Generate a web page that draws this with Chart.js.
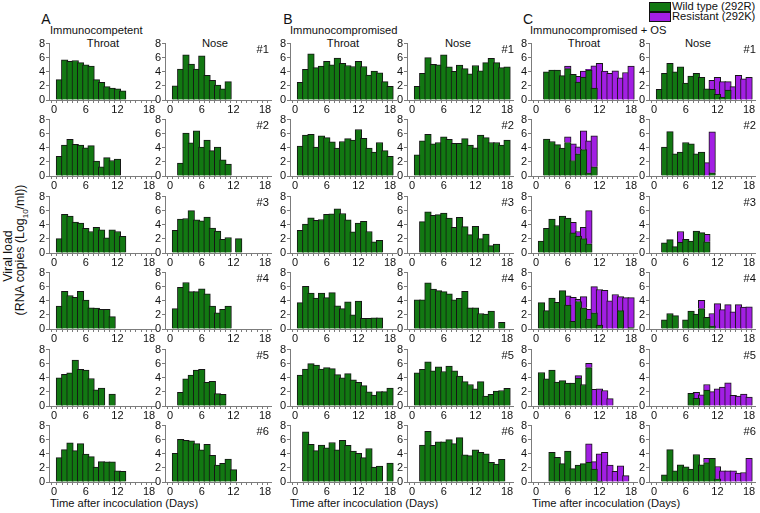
<!DOCTYPE html>
<html>
<head>
<meta charset="utf-8">
<script src="https://cdn.jsdelivr.net/npm/chart.js@4.4.0/dist/chart.umd.min.js"></script>
<style>
  body { margin: 0; background: #fff; }
  #fig { position: relative; width: 760px; height: 513px; overflow: hidden;
         font-family: "Liberation Sans", Arial, sans-serif; color: #111; }
  #fig canvas { position: absolute; }
  .t { position: absolute; white-space: nowrap; line-height: 1; font-size: 11.2px; }
  .c { transform: translate(-50%, -50%); }
  .l { transform: translate(0, -50%); }
  .r { transform: translate(-100%, -50%); }
  .v { transform: translate(-50%, -50%) rotate(-90deg); font-size: 12.4px; }
  .box { position: absolute; width: 20px; height: 8px; border: 1px solid #111; }
</style>
</head>
<body>
<div id="fig">
  <div class="t c" style="left:46px;top:19px;font-size:14px">A</div>
  <div class="t l" style="left:50px;top:31px">Immunocompetent</div>
  <div class="t c" style="left:288px;top:19px;font-size:14px">B</div>
  <div class="t l" style="left:290px;top:31px">Immunocompromised</div>
  <div class="t c" style="left:528px;top:19px;font-size:14px">C</div>
  <div class="t l" style="left:530px;top:31px">Immunocompromised + OS</div>

  <div class="t c" style="left:103px;top:44px">Throat</div>
  <div class="t c" style="left:215px;top:44px">Nose</div>
  <div class="t c" style="left:343px;top:44px">Throat</div>
  <div class="t c" style="left:458px;top:44px">Nose</div>
  <div class="t c" style="left:584px;top:44px">Throat</div>
  <div class="t c" style="left:698px;top:44px">Nose</div>

  <div class="box" style="left:649px;top:2px;background:#127812"></div>
  <div class="t l" style="left:672px;top:7px">Wild type (292R)</div>
  <div class="box" style="left:649px;top:12px;background:#a21fe3"></div>
  <div class="t l" style="left:672px;top:17px">Resistant (292K)</div>

  <div class="t l" style="left:50px;top:504px">Time after incoculation (Days)</div>
  <div class="t l" style="left:290px;top:504px">Time after incoculation (Days)</div>
  <div class="t l" style="left:532px;top:504px">Time after incoculation (Days)</div>

  <div class="t v" style="left:8px;top:256px">Viral load</div>
  <div class="t v" style="left:22px;top:250px">(RNA copies (Log<sub style="font-size:8px">10</sub>/ml))</div>
</div>

<script>
// days after inoculation, one bar per day
const days = [1, 2, 3, 4, 5, 6, 7, 8, 9, 10, 11, 12, 13, 14, 15, 16, 17, 18];
const dayTicks = [0, ...days];
const xLabelDays = [0, 6, 12, 18];
const yTicks = [0, 2, 4, 6, 8];
const animals = ['#1', '#2', '#3', '#4', '#5', '#6'];
const _ = null;

// A: immunocompetent, throat / nose (log10 RNA copies/ml)
const aThroat1 = [2.9, 5.7, 5.5, 5.6, 5.3, 5.0, 4.8, 2.9, 2.5, 1.9, 1.7, 1.6, 1.3, _, _, _, _, _];
const aThroat2 = [2.8, 4.4, 5.2, 4.5, 4.4, 4.0, 4.3, 2.1, 1.3, 2.6, 2.2, 2.4, _, _, _, _, _, _];
const aThroat3 = [2.05, 5.5, 5.25, 4.4, 4.25, 3.5, 3.05, 3.65, 3.3, 2.15, 3.3, 3.05, 2.35, _, _, _, _, _];
const aThroat4 = [3.25, 5.35, 4.75, 4.5, 5.35, 4.1, 3.0, 2.95, 2.8, 2.8, 1.75, _, _, _, _, _, _, _];
const aThroat5 = [4.0, 4.5, 4.7, 6.5, 5.2, 5.1, 3.9, 2.3, 2.55, _, 1.7, _, _, _, _, _, _, _];
const aThroat6 = [3.45, 4.6, 5.55, 4.45, 5.45, 3.95, 3.6, 2.1, 2.9, 2.85, 2.85, 1.6, 1.5, _, _, _, _, _];

const aNose1 = [2.0, 4.4, 6.4, 5.1, 4.4, 6.25, 3.5, 2.8, 2.1, 1.6, 2.6, _, _, _, _, _, _, _];
const aNose2 = [_, 1.85, 6.1, 4.7, 6.4, 4.1, 5.1, 3.6, 4.1, 2.3, 1.7, _, _, _, _, _, _, _];
const aNose3 = [3.2, 4.8, 4.9, 6.0, 4.7, 4.55, 5.1, 3.55, 3.1, 1.95, 2.2, _, 2.05, _, _, _, _, _];
const aNose4 = [2.9, 5.9, 6.6, 5.3, 5.3, 5.7, 5.0, 3.25, 2.3, 2.8, 3.25, _, _, _, _, _, _, _];
const aNose5 = [_, 1.95, 3.85, 4.4, 5.1, 5.2, 3.35, 3.5, 1.75, 1.65, _, _, _, _, _, _, _, _];
const aNose6 = [4.05, 6.05, 5.9, 5.85, 5.45, 4.55, 5.35, 3.8, 2.4, 2.65, 3.25, 1.75, _, _, _, _, _, _];

// B: immunocompromised
const bThroat1 = [2.5, 4.35, 6.55, 4.6, 4.8, 5.5, 5.0, 5.95, 5.2, 4.9, 4.75, 5.5, 4.75, 3.55, 4.1, 3.85, 2.6, 1.95];
const bThroat2 = [4.25, 5.8, 5.9, 4.1, 5.7, 5.45, 4.85, 3.95, 4.9, 5.3, 5.1, 6.6, 5.35, 3.95, 3.4, 4.75, 3.6, 2.8];
const bThroat3 = [3.2, 4.1, 5.0, 4.65, 4.75, 5.5, 5.55, 6.25, 5.6, 4.7, 3.0, 4.25, 4.5, 3.05, 1.6, 1.8, _, _];
const bThroat4 = [3.75, 6.05, 5.1, 4.4, 5.1, 4.45, 5.15, 3.3, 2.9, 3.85, 2.0, 3.95, 1.5, 1.5, 1.6, 1.6, _, _];
const bThroat5 = [4.4, 5.25, 6.0, 5.8, 5.25, 5.45, 5.3, 4.45, 4.0, 4.6, 3.7, 3.35, 2.9, 2.0, 1.55, 2.05, 2.05, 2.55];
const bThroat6 = [_, 7.1, 5.35, 4.45, 5.25, 4.85, 5.6, 4.55, 5.9, 5.2, 4.4, 4.05, 3.45, 4.75, 2.1, 2.25, _, 2.7];

const bNose1 = [1.95, 3.8, 6.0, 5.05, 5.0, 6.4, 4.7, 4.05, 4.95, 4.45, 3.7, 4.9, 4.15, 5.3, 5.9, 5.3, 4.6, 4.7];
const bNose2 = [3.0, 5.0, 5.9, 4.55, 4.75, 5.55, 5.2, 4.65, 4.65, 5.3, 4.4, 4.0, 5.8, 5.45, 4.75, 4.75, 4.4, 5.1];
const bNose3 = [_, 4.45, 5.85, 5.35, 5.45, 5.65, 4.95, 3.65, 5.05, 3.75, 2.6, 3.8, 2.05, 2.7, 1.05, 1.25, _, _];
const bNose4 = [4.15, 4.15, 6.55, 5.65, 5.45, 5.3, 5.0, 4.15, 4.35, 5.35, 3.0, 3.0, 2.2, 2.1, 2.55, _, 0.95, _];
const bNose5 = [4.7, 5.2, 6.25, 5.0, 5.55, 4.9, 5.65, 5.0, 4.25, 3.45, 3.05, 2.45, 3.45, 1.4, 1.65, 2.1, 2.2, 2.5];
const bNose6 = [_, 5.25, 7.2, 5.2, 5.7, 5.7, 6.0, 5.45, 6.3, 3.85, 3.75, 4.55, 4.2, 4.0, 2.8, 2.55, 3.2, _];

// C: immunocompromised + OS, wild type part and resistant part stacked on it
const cThroat1 = [_, 4.0, 4.25, 4.25, 3.45, 4.45, 3.65, 2.55, 3.25, 4.25, 1.7, 0, 0, 0, 0, 0, 0, 0];
const cThroat1R = [_, 0, 0, 0, 0, 0.35, 0, 0.8, 0.85, 0.1, 3.15, 5.2, 4.1, 3.8, 4.15, 3.15, 3.9, 4.8];
const cThroat2 = [_, 5.25, 4.9, 4.45, 3.95, 4.75, 2.2, 3.15, 3.75, 0.45, 1.3, _, _, _, _, _, _, _];
const cThroat2R = [_, 0, 0, 0, 0, 0.8, 2.35, 1.0, 2.65, 4.55, 4.4, _, _, _, _, _, _, _];
const cThroat3 = [1.7, 3.5, 4.8, 3.9, 5.25, 4.95, 2.85, 2.4, 2.05, 1.3, _, _, _, _, _, _, _, _];
const cThroat3R = [0, 0, 0, 0, 0, 0, 1.5, 0.65, 1.6, 4.7, _, _, _, _, _, _, _, _];
const cThroat4 = [3.75, 2.6, 4.4, 3.8, 5.45, 3.4, 1.1, 3.9, 3.0, 1.45, 2.3, 0.55, 0, 0, 0, 2.6, 0, 0.2];
const cThroat4R = [0, 0, 0, 0, 0, 1.3, 3.4, 0.3, 1.6, 1.35, 3.7, 5.05, 5.5, 4.0, 4.9, 2.0, 4.45, 4.25];
const cThroat5 = [4.75, 3.85, 5.1, 3.4, 3.6, 3.25, 3.25, 3.95, 3.05, 5.45, 0, 0, 0, 0, _, _, _, _];
const cThroat5R = [0, 0, 0, 0, 0, 0, 0, 0.35, 0, 0.6, 2.35, 2.45, 2.2, 1.05, _, _, _, _];
const cThroat6 = [_, _, 4.2, 3.5, 2.6, 4.4, 1.9, 2.4, 2.6, 2.8, 1.85, 0.1, 0, 0, 0, 0, 0, _];
const cThroat6R = [_, _, 0, 0, 0, 0, 0, 0, 0, 2.6, 1.05, 3.9, 4.2, 2.4, 1.5, 2.3, 0.9, _];

const cNose1 = [1.5, 3.8, 5.2, 4.0, 4.7, 2.4, 3.4, 3.8, 3.2, 1.6, 1.5, 0.8, 0.4, 1.4, 0, 0, 0, 0];
const cNose1R = [0, 0, 0, 0, 0, 0, 0, 0, 0, 0, 1.3, 2.4, 2.2, 1.2, 1.9, 3.5, 3.0, 3.2];
const cNose2 = [_, 4.1, 6.3, 3.15, 3.4, 4.75, 4.55, 3.15, 3.4, 0, 0.45, _, _, _, _, _, _, _];
const cNose2R = [_, 0, 0, 0, 0, 0, 0, 0, 0, 1.9, 5.8, _, _, _, _, _, _, _];
const cNose3 = [_, 1.45, 1.9, 0.9, 1.5, 1.95, 1.7, 3.1, 2.9, 1.6, _, _, _, _, _, _, _, _];
const cNose3R = [_, 0, 0, 0, 1.55, 0, 0, 0, 0, 1.05, _, _, _, _, _, _, _, _];
const cNose4 = [_, 1.3, 2.2, 1.9, _, 1.3, 2.55, 2.1, 2.9, 1.65, 0.45, 0, 0, 0, 0, 0, 0, 0];
const cNose4R = [_, 0, 0, 0, _, 0, 0, 0, 1.15, 0, 1.75, 3.6, 2.75, 3.45, 2.45, 3.45, 3.1, 3.15];
const cNose5 = [_, _, _, _, _, _, 1.8, 1.1, 0, 2.25, 0, 0, 0, 0, 0, 0, 0, 0];
const cNose5R = [_, _, _, _, _, _, 0, 0.85, 1.6, 0.8, 2.05, 2.45, 2.7, 3.3, 1.5, 1.4, 1.7, 1.25];
const cNose6 = [_, 1.0, 4.6, 1.6, 2.45, 2.15, 1.85, 3.9, 2.45, 2.75, 3.35, 0.45, 0, 0, 0, 0, 0, 0];
const cNose6R = [_, 0, 0, 0, 0, 0, 0, 0, 0, 0.6, 0, 1.75, 1.6, 1.6, 1.6, 1.25, 1.35, 3.35];

const GREEN = '#127812';
const PURPLE = '#a21fe3';
const EDGE = '#161616';
const AXIS = '#7c7c7c';
const tickFont = { family: '"Liberation Sans", Arial, sans-serif', size: 11 };

// panel grid: where day 0 sits (x) and where value 0 sits (y)
const colX = [52, 168, 293, 410, 534, 652];
const rowY = [99.5, 176, 252.5, 329, 405.5, 482];
const noteRight = [269, 514, 756];

const rows = [
  [[aThroat1], [aNose1], [bThroat1], [bNose1], [cThroat1, cThroat1R], [cNose1, cNose1R]],
  [[aThroat2], [aNose2], [bThroat2], [bNose2], [cThroat2, cThroat2R], [cNose2, cNose2R]],
  [[aThroat3], [aNose3], [bThroat3], [bNose3], [cThroat3, cThroat3R], [cNose3, cNose3R]],
  [[aThroat4], [aNose4], [bThroat4], [bNose4], [cThroat4, cThroat4R], [cNose4, cNose4R]],
  [[aThroat5], [aNose5], [bThroat5], [bNose5], [cThroat5, cThroat5R], [cNose5, cNose5R]],
  [[aThroat6], [aNose6], [bThroat6], [bNose6], [cThroat6, cThroat6R], [cNose6, cNose6R]],
];

const fig = document.getElementById('fig');
const X_MIN = -0.45, X_MAX = 18.6;
const AXIS_W = 18, AXIS_H = 16, PAD_TOP = 7, PAD_RIGHT = 8;
const PLOT_W = 106, PLOT_H = 57;
const pxPerDay = PLOT_W / (X_MAX - X_MIN);

function toPoints(vals) {
  return vals.map((v, i) => ({ x: days[i], y: v })).filter(p => p.y != null && p.y > 0);
}

function makePanel(x0, zero, wt, res) {
  const cv = document.createElement('canvas');
  cv.width = AXIS_W + PLOT_W + PAD_RIGHT;
  cv.height = PAD_TOP + PLOT_H + AXIS_H;
  cv.style.left = Math.round(x0 + X_MIN * pxPerDay - AXIS_W) + 'px';
  cv.style.top = Math.round(zero - PLOT_H - PAD_TOP) + 'px';
  fig.appendChild(cv);

  const sets = [{ label: 'Wild type (292R)', data: toPoints(wt), backgroundColor: GREEN }];
  if (res) sets.push({ label: 'Resistant (292K)', data: toPoints(res), backgroundColor: PURPLE });
  sets.forEach(s => Object.assign(s, {
    borderColor: EDGE, borderWidth: 1, barThickness: pxPerDay + 1
  }));

  new Chart(cv, {
    type: 'bar',
    data: { datasets: sets },
    options: {
      responsive: false,
      animation: false,
      devicePixelRatio: 1,
      layout: { padding: { top: PAD_TOP, right: PAD_RIGHT, left: 0, bottom: 0 } },
      plugins: { legend: { display: false }, tooltip: { enabled: false } },
      scales: {
        x: {
          type: 'linear', min: X_MIN, max: X_MAX, stacked: true,
          afterBuildTicks: s => { s.ticks = dayTicks.map(v => ({ value: v })); },
          afterFit: s => { s.height = AXIS_H; },
          grid: { drawOnChartArea: false, tickLength: 3, color: AXIS },
          border: { color: AXIS },
          ticks: {
            autoSkip: false, maxRotation: 0, padding: 0, font: tickFont, color: '#111',
            callback: v => xLabelDays.includes(v) ? String(v) : ''
          }
        },
        y: {
          min: 0, max: 8, stacked: true,
          afterBuildTicks: s => { s.ticks = yTicks.map(v => ({ value: v })); },
          afterFit: s => { s.width = AXIS_W; },
          grid: { drawOnChartArea: false, tickLength: 3, color: AXIS },
          border: { color: AXIS },
          ticks: { autoSkip: false, padding: 1, font: tickFont, color: '#111' }
        }
      }
    }
  });
}

rows.forEach((row, r) => {
  row.forEach((p, c) => makePanel(colX[c], rowY[r], p[0], p[1]));
  noteRight.forEach(xr => {
    const d = document.createElement('div');
    d.className = 't r';
    d.style.left = xr + 'px';
    d.style.top = (rowY[r] - 50) + 'px';
    d.textContent = animals[r];
    fig.appendChild(d);
  });
});
</script>
</body>
</html>
